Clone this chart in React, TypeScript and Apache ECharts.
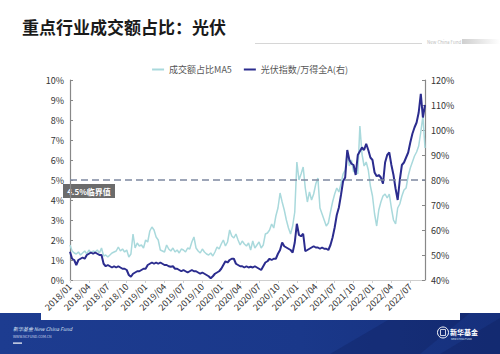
import React, { useEffect, useRef } from "react";
import * as echarts from "echarts";

// Quarter tick labels on the x axis
const quarterLabels = [
  "2018/01", "2018/04", "2018/07", "2018/10",
  "2019/01", "2019/04", "2019/07", "2019/10",
  "2020/01", "2020/04", "2020/07", "2020/10",
  "2021/01", "2021/04", "2021/07", "2021/10",
  "2022/01", "2022/04", "2022/07",
];

// Sample dates (three per month: 1st, 11th, 21st)
const sampleDays = ["01", "11", "21"];
const startYear = 2018;
const pointCount = 170;

// 成交额占比MA5 (%), left axis
const turnoverShareMA5 = [
  1.75, 1.45, 1.35, 1.3, 1.4, 1.25, 1.35, 1.45, 1.3, 1.5, 1.35, 1.45,
  1.4, 1.5, 1.35, 1.6, 1.2, 1.25, 1.15, 1.25, 1.35, 1.4, 1.45, 1.65,
  1.45, 1.55, 1.4, 1.5, 1.15, 1.3, 2.3, 1.6, 1.85, 1.7, 1.75, 1.6,
  2.0, 1.9, 2.45, 2.65, 2.5, 2.15, 2.0, 1.5, 1.45, 1.4, 1.75, 1.55,
  1.45, 1.6, 1.4, 1.5, 1.35, 1.55, 1.5, 1.4, 1.6, 1.55, 1.9, 2.15,
  1.6, 1.45, 1.35, 1.55, 1.4, 1.3, 1.25, 1.35, 1.2, 1.4, 1.65, 1.55,
  1.8, 2.0, 1.7, 1.9, 2.5, 2.2, 2.1, 2.3, 2.0, 1.75, 1.95, 1.8,
  1.7, 1.85, 1.5, 1.95, 1.6, 1.75, 1.9, 1.6, 1.75, 2.3, 2.35, 2.5,
  2.8, 2.6, 3.2, 3.6, 4.35, 3.9, 3.5, 3.0, 2.6, 2.3, 2.7, 3.4,
  5.9, 5.0, 5.3, 5.65, 4.6, 3.9, 4.4, 4.0, 4.3, 4.8, 5.1, 3.6,
  3.3, 3.0, 2.7, 2.85, 3.4, 3.9, 4.3, 4.6, 4.4, 4.8, 5.3, 5.5,
  6.4, 5.7, 6.0, 5.4, 5.6, 5.3, 7.7, 6.3, 5.7, 5.9, 5.5, 4.7,
  4.2, 3.3, 2.7, 3.5, 3.9, 4.2, 4.3, 4.1, 4.3, 3.6, 3.0, 2.8,
  3.6, 3.8, 4.2, 4.5, 4.6, 5.2, 5.6, 5.9, 6.2, 6.4, 6.7, 7.4,
  8.2, 6.6,
];

// 光伏指数/万得全A (%), right axis
const pvToWindA = [
  51.3, 48.5, 48, 46, 48, 48.5, 49, 48.5, 50, 50.5, 51, 50.5,
  51, 50.5, 50, 50, 46.5, 45.5, 46, 45.5, 45, 45.5, 45, 45.5,
  45, 44.5, 44.5, 44, 42, 41.3, 42.5, 43, 43.5, 43.5, 44, 44.5,
  44.5, 46, 46.5, 47, 46.5, 47, 46.5, 47, 46.5, 46, 46, 45.5,
  45.3, 45.5, 44.5, 44.5, 44, 43.5, 44, 43.5, 43, 43.5, 44, 43.5,
  43.5, 43, 42.5, 43, 42.5, 42, 41.5, 40.7, 41.5, 42.5, 43, 43.5,
  44.5, 46, 47.5, 47, 48, 48.5, 48.5, 46.5, 46, 45.5, 45.5, 45,
  45.5, 45, 45.3, 45, 45.5, 45, 44.5, 44, 45.5, 47, 47.5, 48.5,
  48, 48.5, 48.5, 50.5, 52, 55, 53.5, 53, 52.5, 52, 51, 55,
  62.5, 58, 57.5, 58.5, 51.5, 52, 52.5, 53, 53.5, 53, 53, 52.5,
  53, 52.5, 52.5, 52, 54, 57, 61, 66, 69, 74, 79.5, 81,
  92, 88, 86.5, 86, 82, 90, 91.5, 93, 92, 94.5, 92, 89,
  88, 83, 81.5, 82, 81, 78.5, 87, 90, 91, 86, 82, 76.5,
  72, 80, 86, 87, 89, 91, 95, 98.5, 101, 103, 107, 114.5,
  105, 110,
];

const criticalLevel = 5;
const criticalLabel = "4.5%临界值";

const categories: string[] = [];
for (let i = 0; i < pointCount; i++) {
  const m = Math.floor(i / 3);
  const y = startYear + Math.floor(m / 12);
  const mm = String((m % 12) + 1).padStart(2, "0");
  categories.push(`${y}/${mm}/${sampleDays[i % 3]}`);
}

const FONT = "'Noto Sans CJK SC', 'Noto Sans', sans-serif";

const isQuarterStart = (value: string) =>
  value.endsWith("/01") && quarterLabels.includes(value.slice(0, 7));

export default function App() {
  const ref = useRef<HTMLDivElement>(null);

  useEffect(() => {
    if (!ref.current) return;
    const chart = echarts.init(ref.current, null, { renderer: "svg" });
    const tickInterval = (_i: number, v: string) => isQuarterStart(v);

    chart.setOption({
      animation: false,
      backgroundColor: "#ffffff",
      textStyle: { fontFamily: FONT },
      legend: {
        top: 60,
        left: "center",
        itemWidth: 12,
        itemHeight: 2,
        itemGap: 12,
        icon: "rect",
        textStyle: { fontSize: 9, color: "#555", fontFamily: FONT },
        data: ["成交额占比MA5", "光伏指数/万得全A(右)"],
      },
      grid: { left: 70, right: 75, top: 80, bottom: 74 },
      xAxis: {
        type: "category",
        data: categories,
        boundaryGap: false,
        axisLine: { lineStyle: { color: "#cfcfcf", width: 1 } },
        axisTick: { show: true, interval: tickInterval, length: 3, lineStyle: { color: "#cfcfcf" } },
        axisLabel: {
          interval: tickInterval,
          rotate: 45,
          fontSize: 9,
          color: "#333",
          margin: 5,
          fontFamily: FONT,
          formatter: (v: string) => v.slice(0, 7),
        },
        splitLine: { show: false },
      },
      yAxis: [
        {
          type: "value",
          min: 0,
          max: 10,
          interval: 1,
          axisLine: { show: true, lineStyle: { color: "#888", width: 1.2 } },
          axisTick: { show: true, inside: true, length: 3, lineStyle: { color: "#888" } },
          axisLabel: { formatter: "{value}%", fontSize: 9, color: "#333", margin: 6, fontFamily: FONT },
          splitLine: { show: false },
        },
        {
          type: "value",
          min: 40,
          max: 120,
          interval: 10,
          position: "right",
          axisLine: { show: true, lineStyle: { color: "#888", width: 1.2 } },
          axisTick: { show: true, inside: true, length: 3, lineStyle: { color: "#888" } },
          axisLabel: { formatter: "{value}%", fontSize: 9, color: "#333", margin: 6, fontFamily: FONT },
          splitLine: { show: false },
        },
      ],
      series: [
        {
          name: "成交额占比MA5",
          type: "line",
          yAxisIndex: 0,
          data: turnoverShareMA5,
          showSymbol: false,
          symbol: "none",
          lineStyle: { color: "#a9d9dc", width: 1.5 },
          itemStyle: { color: "#a9d9dc" },
          z: 2,
          markLine: {
            silent: true,
            symbol: ["none", "none"],
            label: { show: false },
            lineStyle: { color: "#7d88a0", type: [7, 4], width: 1.5 },
            data: [{ yAxis: criticalLevel }],
          },
        },
        {
          name: "光伏指数/万得全A(右)",
          type: "line",
          yAxisIndex: 1,
          data: pvToWindA,
          showSymbol: false,
          symbol: "none",
          lineStyle: { color: "#2b2c8e", width: 2 },
          itemStyle: { color: "#2b2c8e" },
          z: 3,
        },
      ],
      graphic: [
        {
          type: "text",
          left: 22,
          top: 18,
          style: {
            text: "重点行业成交额占比：光伏",
            fontSize: 17,
            fontWeight: "bold",
            fill: "#1a1a1a",
            fontFamily: FONT,
          },
        },
        {
          type: "line",
          shape: { x1: 255, y1: 43.5, x2: 422, y2: 43.5 },
          style: { stroke: "#d6d6d6", lineWidth: 1 },
        },
        {
          type: "text",
          left: 427,
          top: 40,
          style: { text: "New China Fund", fontSize: 4.5, fill: "#bdbdbd", fontFamily: FONT },
        },
        {
          type: "rect",
          shape: { x: 462, y: 39, width: 38, height: 5 },
          style: {
            fill: new echarts.graphic.LinearGradient(0, 0, 1, 0, [
              { offset: 0, color: "#cfcfcf" },
              { offset: 1, color: "#ffffff" },
            ]),
          },
        },
        {
          type: "group",
          left: 63,
          top: 184,
          z: 10,
          children: [
            { type: "rect", shape: { x: 0, y: 0, width: 52, height: 14 }, style: { fill: "#6b6b6b" } },
            {
              type: "text",
              x: 26,
              y: 7,
              style: {
                text: criticalLabel,
                fontSize: 8,
                fontWeight: "bold",
                fill: "#ffffff",
                align: "center",
                verticalAlign: "middle",
                fontFamily: FONT,
              },
            },
          ],
        },
        // footer band
        {
          type: "rect",
          shape: { x: 0, y: 313, width: 500, height: 41 },
          style: {
            fill: new echarts.graphic.LinearGradient(0, 0, 1, 0, [
              { offset: 0, color: "#1d3c90" },
              { offset: 0.6, color: "#1a388a" },
              { offset: 1, color: "#16307c" },
            ]),
          },
          z: 5,
        },
        {
          type: "polygon",
          shape: { points: [[330, 354], [400, 313], [470, 313], [420, 354]] },
          style: { fill: "rgba(10,25,80,0.25)" },
          z: 6,
        },
        {
          type: "polygon",
          shape: { points: [[440, 354], [500, 318], [500, 354]] },
          style: { fill: "rgba(10,25,80,0.25)" },
          z: 6,
        },
        {
          type: "rect",
          shape: { x: 41, y: 312, width: 419, height: 8 },
          style: { fill: "#ffffff" },
          z: 7,
        },
        {
          type: "text",
          left: 13,
          top: 326,
          z: 8,
          style: { text: "新华基金 New China Fund", fontSize: 5, fill: "#dfe6f5", fontFamily: FONT, fontStyle: "italic" },
        },
        {
          type: "text",
          left: 13,
          top: 335,
          z: 8,
          style: { text: "WWW.NCFUND.COM.CN", fontSize: 3.5, fill: "#cfd8ee", fontFamily: FONT },
        },
        {
          type: "rect",
          shape: { x: 13, y: 342.5, width: 9, height: 1.2 },
          style: { fill: "#ffffff" },
          z: 8,
        },
        {
          type: "circle",
          shape: { cx: 443, cy: 332.5, r: 5.5 },
          style: { fill: "none", stroke: "#ffffff", lineWidth: 1 },
          z: 8,
        },
        {
          type: "rect",
          shape: { x: 440.5, y: 329.5, width: 5, height: 6 },
          style: { fill: "none", stroke: "#ffffff", lineWidth: 0.8 },
          z: 8,
        },
        {
          type: "text",
          left: 450,
          top: 328,
          z: 8,
          style: { text: "新华基金", fontSize: 7, fontWeight: "bold", fill: "#ffffff", fontFamily: FONT },
        },
        {
          type: "text",
          left: 451,
          top: 338,
          z: 8,
          style: { text: "NEW CHINA FUND", fontSize: 2.5, fill: "#dfe6f5", fontFamily: FONT },
        },
      ],
    });

    return () => chart.dispose();
  }, []);

  return <div ref={ref} style={{ width: 500, height: 354, position: "absolute", left: 0, top: 0 }} />;
}
